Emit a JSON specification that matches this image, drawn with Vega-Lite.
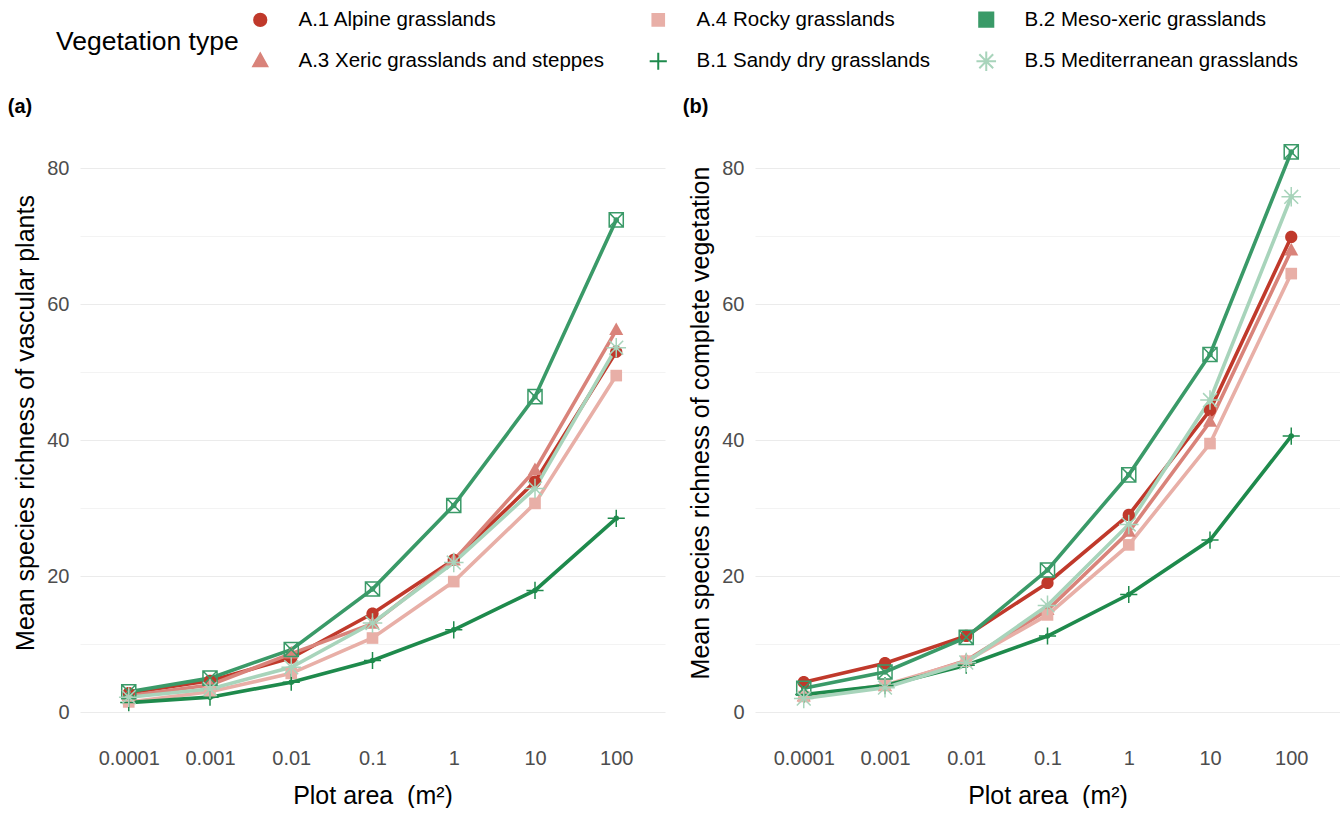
{
  "$schema": "https://vega.github.io/schema/vega-lite/v6.json",
  "background": "white",
  "padding": {"left": 7, "top": 9, "right": 0, "bottom": 0},
  "config": {
    "font": "Liberation Sans",
    "view": {"stroke": null},
    "concat": {"spacing": 17},
    "axis": {
      "domain": false,
      "ticks": false,
      "gridColor": "#ebebeb",
      "labelFontSize": 20,
      "labelColor": "#4d4d4d",
      "titleFontSize": 25,
      "titleFontWeight": "normal",
      "titleColor": "black"
    },
    "legend": {
      "orient": "none", "legendX": -24, "legendY": -96,
      "direction": "horizontal", "columns": 3,
      "titleOrient": "left", "titleFontSize": 26.5, "titleFontWeight": "normal", "titleColor": "black", "titlePadding": 11, "titleAnchor": "middle", "titleBaseline": "middle", "titleLimit": 400,
      "labelFontSize": 20.5, "labelColor": "black", "labelOffset": 28, "labelLimit": 0,
      "symbolSize": 150, "symbolStrokeWidth": 2,
      "rowPadding": 16, "columnPadding": 41
    }
  },
  "datasets": {
    "rich": [
      {"panel": "a", "type": "A.1 Alpine grasslands", "area": "0.0001", "richness": 2.8},
      {"panel": "a", "type": "A.1 Alpine grasslands", "area": "0.001", "richness": 4.6},
      {"panel": "a", "type": "A.1 Alpine grasslands", "area": "0.01", "richness": 8.0},
      {"panel": "a", "type": "A.1 Alpine grasslands", "area": "0.1", "richness": 14.5},
      {"panel": "a", "type": "A.1 Alpine grasslands", "area": "1", "richness": 22.4},
      {"panel": "a", "type": "A.1 Alpine grasslands", "area": "10", "richness": 33.9},
      {"panel": "a", "type": "A.1 Alpine grasslands", "area": "100", "richness": 53.0},
      {"panel": "a", "type": "A.3 Xeric grasslands and steppes", "area": "0.0001", "richness": 2.4},
      {"panel": "a", "type": "A.3 Xeric grasslands and steppes", "area": "0.001", "richness": 4.0},
      {"panel": "a", "type": "A.3 Xeric grasslands and steppes", "area": "0.01", "richness": 8.6},
      {"panel": "a", "type": "A.3 Xeric grasslands and steppes", "area": "0.1", "richness": 13.0},
      {"panel": "a", "type": "A.3 Xeric grasslands and steppes", "area": "1", "richness": 22.3},
      {"panel": "a", "type": "A.3 Xeric grasslands and steppes", "area": "10", "richness": 35.6},
      {"panel": "a", "type": "A.3 Xeric grasslands and steppes", "area": "100", "richness": 56.2},
      {"panel": "a", "type": "A.4 Rocky grasslands", "area": "0.0001", "richness": 1.5},
      {"panel": "a", "type": "A.4 Rocky grasslands", "area": "0.001", "richness": 3.0},
      {"panel": "a", "type": "A.4 Rocky grasslands", "area": "0.01", "richness": 5.7},
      {"panel": "a", "type": "A.4 Rocky grasslands", "area": "0.1", "richness": 10.9},
      {"panel": "a", "type": "A.4 Rocky grasslands", "area": "1", "richness": 19.2},
      {"panel": "a", "type": "A.4 Rocky grasslands", "area": "10", "richness": 30.7},
      {"panel": "a", "type": "A.4 Rocky grasslands", "area": "100", "richness": 49.5},
      {"panel": "a", "type": "B.1 Sandy dry grasslands", "area": "0.0001", "richness": 1.4},
      {"panel": "a", "type": "B.1 Sandy dry grasslands", "area": "0.001", "richness": 2.2},
      {"panel": "a", "type": "B.1 Sandy dry grasslands", "area": "0.01", "richness": 4.4},
      {"panel": "a", "type": "B.1 Sandy dry grasslands", "area": "0.1", "richness": 7.6},
      {"panel": "a", "type": "B.1 Sandy dry grasslands", "area": "1", "richness": 12.1},
      {"panel": "a", "type": "B.1 Sandy dry grasslands", "area": "10", "richness": 17.9},
      {"panel": "a", "type": "B.1 Sandy dry grasslands", "area": "100", "richness": 28.5},
      {"panel": "a", "type": "B.2 Meso-xeric grasslands", "area": "0.0001", "richness": 3.0},
      {"panel": "a", "type": "B.2 Meso-xeric grasslands", "area": "0.001", "richness": 5.0},
      {"panel": "a", "type": "B.2 Meso-xeric grasslands", "area": "0.01", "richness": 9.2},
      {"panel": "a", "type": "B.2 Meso-xeric grasslands", "area": "0.1", "richness": 18.1},
      {"panel": "a", "type": "B.2 Meso-xeric grasslands", "area": "1", "richness": 30.4},
      {"panel": "a", "type": "B.2 Meso-xeric grasslands", "area": "10", "richness": 46.4},
      {"panel": "a", "type": "B.2 Meso-xeric grasslands", "area": "100", "richness": 72.4},
      {"panel": "a", "type": "B.5 Mediterranean grasslands", "area": "0.0001", "richness": 2.2},
      {"panel": "a", "type": "B.5 Mediterranean grasslands", "area": "0.001", "richness": 3.4},
      {"panel": "a", "type": "B.5 Mediterranean grasslands", "area": "0.01", "richness": 6.6},
      {"panel": "a", "type": "B.5 Mediterranean grasslands", "area": "0.1", "richness": 13.1},
      {"panel": "a", "type": "B.5 Mediterranean grasslands", "area": "1", "richness": 22.0},
      {"panel": "a", "type": "B.5 Mediterranean grasslands", "area": "10", "richness": 32.9},
      {"panel": "a", "type": "B.5 Mediterranean grasslands", "area": "100", "richness": 53.6},
      {"panel": "b", "type": "A.1 Alpine grasslands", "area": "0.0001", "richness": 4.4},
      {"panel": "b", "type": "A.1 Alpine grasslands", "area": "0.001", "richness": 7.2},
      {"panel": "b", "type": "A.1 Alpine grasslands", "area": "0.01", "richness": 11.2},
      {"panel": "b", "type": "A.1 Alpine grasslands", "area": "0.1", "richness": 19.0},
      {"panel": "b", "type": "A.1 Alpine grasslands", "area": "1", "richness": 29.0},
      {"panel": "b", "type": "A.1 Alpine grasslands", "area": "10", "richness": 44.4},
      {"panel": "b", "type": "A.1 Alpine grasslands", "area": "100", "richness": 69.9},
      {"panel": "b", "type": "A.3 Xeric grasslands and steppes", "area": "0.0001", "richness": 2.3},
      {"panel": "b", "type": "A.3 Xeric grasslands and steppes", "area": "0.001", "richness": 3.8},
      {"panel": "b", "type": "A.3 Xeric grasslands and steppes", "area": "0.01", "richness": 7.6},
      {"panel": "b", "type": "A.3 Xeric grasslands and steppes", "area": "0.1", "richness": 15.0},
      {"panel": "b", "type": "A.3 Xeric grasslands and steppes", "area": "1", "richness": 26.5},
      {"panel": "b", "type": "A.3 Xeric grasslands and steppes", "area": "10", "richness": 42.7},
      {"panel": "b", "type": "A.3 Xeric grasslands and steppes", "area": "100", "richness": 67.9},
      {"panel": "b", "type": "A.4 Rocky grasslands", "area": "0.0001", "richness": 2.3},
      {"panel": "b", "type": "A.4 Rocky grasslands", "area": "0.001", "richness": 4.0},
      {"panel": "b", "type": "A.4 Rocky grasslands", "area": "0.01", "richness": 7.5},
      {"panel": "b", "type": "A.4 Rocky grasslands", "area": "0.1", "richness": 14.3},
      {"panel": "b", "type": "A.4 Rocky grasslands", "area": "1", "richness": 24.6},
      {"panel": "b", "type": "A.4 Rocky grasslands", "area": "10", "richness": 39.5},
      {"panel": "b", "type": "A.4 Rocky grasslands", "area": "100", "richness": 64.5},
      {"panel": "b", "type": "B.1 Sandy dry grasslands", "area": "0.0001", "richness": 2.6},
      {"panel": "b", "type": "B.1 Sandy dry grasslands", "area": "0.001", "richness": 3.9},
      {"panel": "b", "type": "B.1 Sandy dry grasslands", "area": "0.01", "richness": 6.9},
      {"panel": "b", "type": "B.1 Sandy dry grasslands", "area": "0.1", "richness": 11.2},
      {"panel": "b", "type": "B.1 Sandy dry grasslands", "area": "1", "richness": 17.3},
      {"panel": "b", "type": "B.1 Sandy dry grasslands", "area": "10", "richness": 25.3},
      {"panel": "b", "type": "B.1 Sandy dry grasslands", "area": "100", "richness": 40.6},
      {"panel": "b", "type": "B.2 Meso-xeric grasslands", "area": "0.0001", "richness": 3.5},
      {"panel": "b", "type": "B.2 Meso-xeric grasslands", "area": "0.001", "richness": 5.9},
      {"panel": "b", "type": "B.2 Meso-xeric grasslands", "area": "0.01", "richness": 11.0},
      {"panel": "b", "type": "B.2 Meso-xeric grasslands", "area": "0.1", "richness": 20.9},
      {"panel": "b", "type": "B.2 Meso-xeric grasslands", "area": "1", "richness": 34.9},
      {"panel": "b", "type": "B.2 Meso-xeric grasslands", "area": "10", "richness": 52.6},
      {"panel": "b", "type": "B.2 Meso-xeric grasslands", "area": "100", "richness": 82.4},
      {"panel": "b", "type": "B.5 Mediterranean grasslands", "area": "0.0001", "richness": 2.0},
      {"panel": "b", "type": "B.5 Mediterranean grasslands", "area": "0.001", "richness": 3.6},
      {"panel": "b", "type": "B.5 Mediterranean grasslands", "area": "0.01", "richness": 7.3},
      {"panel": "b", "type": "B.5 Mediterranean grasslands", "area": "0.1", "richness": 15.7},
      {"panel": "b", "type": "B.5 Mediterranean grasslands", "area": "1", "richness": 27.6},
      {"panel": "b", "type": "B.5 Mediterranean grasslands", "area": "10", "richness": 45.9},
      {"panel": "b", "type": "B.5 Mediterranean grasslands", "area": "100", "richness": 75.8}
    ]
  },
  "data": {"name": "rich"},
  "resolve": {"scale": {"color": "shared", "shape": "shared"}},
  "hconcat": [
    {
      "width": 585,
      "height": 635,
      "title": {"text": "(a)", "anchor": "start", "frame": "bounds", "fontSize": 20, "fontWeight": "bold", "color": "black", "dx": -6, "offset": -12},
      "transform": [{"filter": "datum.panel == 'a'"}],
      "encoding": {
        "x": {
          "field": "area", "type": "ordinal",
          "scale": {"type": "point", "padding": 0.6, "domain": ["0.0001", "0.001", "0.01", "0.1", "1", "10", "100"]},
          "axis": {"title": "Plot area \u00a0(m²)", "labelAngle": 0, "labelPadding": 8, "titlePadding": 15, "gridWidth": 1.2}
        },
        "y": {
          "field": "richness", "type": "quantitative",
          "scale": {"domain": [-4.1, 89.3], "nice": false, "zero": false},
          "axis": {
            "title": "Mean species richness of vascular plants",
            "values": [0, 10, 20, 30, 40, 50, 60, 70, 80],
            "labelExpr": "datum.value % 20 == 0 ? datum.label : ''",
            "labelPadding": 11, "titlePadding": 8,
            "gridWidth": {"condition": {"test": "datum.value % 20 == 0", "value": 1.2}, "value": 0.6}
          }
        },
        "color": {
          "field": "type", "type": "nominal",
          "scale": {
            "domain": ["A.1 Alpine grasslands", "A.4 Rocky grasslands", "B.2 Meso-xeric grasslands", "A.3 Xeric grasslands and steppes", "B.1 Sandy dry grasslands", "B.5 Mediterranean grasslands"],
            "range": ["#C0392B", "#E8AFA7", "#3A9A68", "#D9837A", "#1E8A4C", "#A8D4BB"]
          },
          "legend": {"title": "Vegetation type"}
        },
        "shape": {
          "field": "type", "type": "nominal",
          "scale": {
            "domain": ["A.1 Alpine grasslands", "A.4 Rocky grasslands", "B.2 Meso-xeric grasslands", "A.3 Xeric grasslands and steppes", "B.1 Sandy dry grasslands", "B.5 Mediterranean grasslands"],
            "range": [
              "M-1,0A1,1,0,1,1,1,0A1,1,0,1,1,-1,0Z",
              "M-0.95,-0.95L0.95,-0.95L0.95,0.95L-0.95,0.95Z",
              "M-1.15,-1.15L1.15,-1.15L1.15,1.15L-1.15,1.15Z M-1.15,-1.15L1.15,1.15 M1.15,-1.15L-1.15,1.15",
              "M0,-1.25L1.15,0.8L-1.15,0.8Z",
              "M-1.4,0L1.4,0 M0,-1.4L0,1.4",
              "M-1.6,0L1.6,0 M0,-1.6L0,1.6 M-1.13,-1.13L1.13,1.13 M-1.13,1.13L1.13,-1.13"
            ]
          },
          "legend": null
        }
      },
      "layer": [
        {"mark": {"type": "line", "strokeWidth": 3.6}, "encoding": {"shape": {"value": null}}},
        {"transform": [{"filter": {"field": "type", "oneOf": ["A.1 Alpine grasslands", "A.3 Xeric grasslands and steppes", "A.4 Rocky grasslands"]}}], "mark": {"type": "point", "filled": true, "opacity": 1, "size": 150}},
        {"transform": [{"filter": {"field": "type", "oneOf": ["B.1 Sandy dry grasslands", "B.2 Meso-xeric grasslands", "B.5 Mediterranean grasslands"]}}], "mark": {"type": "point", "filled": false, "opacity": 1, "size": 150, "strokeWidth": 1.5}}
      ]
    },
    {
      "width": 585,
      "height": 635,
      "title": {"text": "(b)", "anchor": "start", "frame": "bounds", "fontSize": 20, "fontWeight": "bold", "color": "black", "dx": -6, "offset": -12},
      "transform": [{"filter": "datum.panel == 'b'"}],
      "encoding": {
        "x": {
          "field": "area", "type": "ordinal",
          "scale": {"type": "point", "padding": 0.6, "domain": ["0.0001", "0.001", "0.01", "0.1", "1", "10", "100"]},
          "axis": {"title": "Plot area \u00a0(m²)", "labelAngle": 0, "labelPadding": 8, "titlePadding": 15, "gridWidth": 1.2}
        },
        "y": {
          "field": "richness", "type": "quantitative",
          "scale": {"domain": [-4.1, 89.3], "nice": false, "zero": false},
          "axis": {
            "title": "Mean species richness of complete vegetation",
            "values": [0, 10, 20, 30, 40, 50, 60, 70, 80],
            "labelExpr": "datum.value % 20 == 0 ? datum.label : ''",
            "labelPadding": 11, "titlePadding": 8,
            "gridWidth": {"condition": {"test": "datum.value % 20 == 0", "value": 1.2}, "value": 0.6}
          }
        },
        "color": {
          "field": "type", "type": "nominal",
          "scale": {
            "domain": ["A.1 Alpine grasslands", "A.4 Rocky grasslands", "B.2 Meso-xeric grasslands", "A.3 Xeric grasslands and steppes", "B.1 Sandy dry grasslands", "B.5 Mediterranean grasslands"],
            "range": ["#C0392B", "#E8AFA7", "#3A9A68", "#D9837A", "#1E8A4C", "#A8D4BB"]
          },
          "legend": {"title": "Vegetation type"}
        },
        "shape": {
          "field": "type", "type": "nominal",
          "scale": {
            "domain": ["A.1 Alpine grasslands", "A.4 Rocky grasslands", "B.2 Meso-xeric grasslands", "A.3 Xeric grasslands and steppes", "B.1 Sandy dry grasslands", "B.5 Mediterranean grasslands"],
            "range": [
              "M-1,0A1,1,0,1,1,1,0A1,1,0,1,1,-1,0Z",
              "M-0.95,-0.95L0.95,-0.95L0.95,0.95L-0.95,0.95Z",
              "M-1.15,-1.15L1.15,-1.15L1.15,1.15L-1.15,1.15Z M-1.15,-1.15L1.15,1.15 M1.15,-1.15L-1.15,1.15",
              "M0,-1.25L1.15,0.8L-1.15,0.8Z",
              "M-1.4,0L1.4,0 M0,-1.4L0,1.4",
              "M-1.6,0L1.6,0 M0,-1.6L0,1.6 M-1.13,-1.13L1.13,1.13 M-1.13,1.13L1.13,-1.13"
            ]
          },
          "legend": null
        }
      },
      "layer": [
        {"mark": {"type": "line", "strokeWidth": 3.6}, "encoding": {"shape": {"value": null}}},
        {"transform": [{"filter": {"field": "type", "oneOf": ["A.1 Alpine grasslands", "A.3 Xeric grasslands and steppes", "A.4 Rocky grasslands"]}}], "mark": {"type": "point", "filled": true, "opacity": 1, "size": 150}},
        {"transform": [{"filter": {"field": "type", "oneOf": ["B.1 Sandy dry grasslands", "B.2 Meso-xeric grasslands", "B.5 Mediterranean grasslands"]}}], "mark": {"type": "point", "filled": false, "opacity": 1, "size": 150, "strokeWidth": 1.5}}
      ]
    }
  ]
}
